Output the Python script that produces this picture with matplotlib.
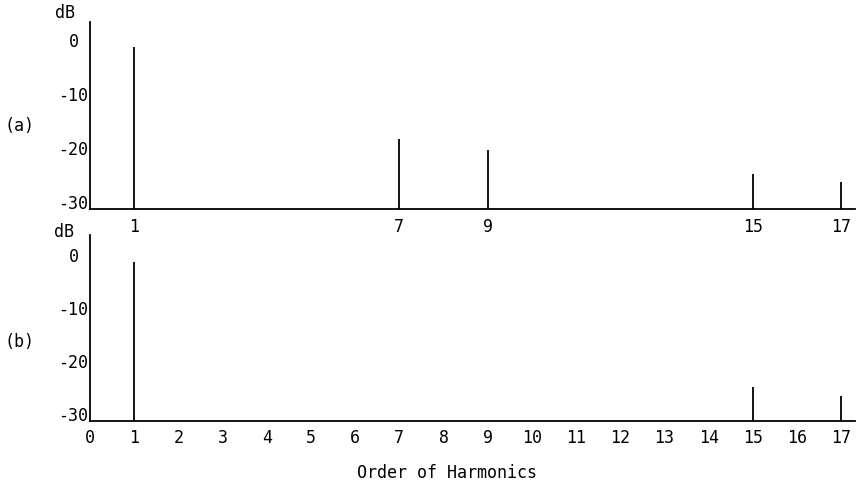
import matplotlib
matplotlib.use("Agg")
from matplotlib import pyplot as plt

# harmonic spectra, dB relative to fundamental
harmonics_a = [1, 7, 9, 15, 17]
levels_a = [0, -17, -19, -23.5, -25]
harmonics_b = [1, 15, 17]
levels_b = [0, -23.6, -25.3]

db_ticks = [0, -10, -20, -30]
db_labels = ["0 ", "-10", "-20", "-30"]
order_ticks = list(range(0, 18))

plt.rcParams["font.family"] = ["DejaVu Sans Mono"]
plt.rcParams["font.size"] = 12

fig = plt.figure(figsize=(8.65, 4.9), dpi=100)
ax_a = fig.add_axes([0.104, 0.573, 0.884, 0.382])
ax_b = fig.add_axes([0.104, 0.141, 0.884, 0.379])


def setup(ax, top, xticks, xpad):
    ax.set_xlim(0, 17.3)
    ax.set_ylim(-30, top)
    for side in ("top", "right"):
        ax.spines[side].set_visible(False)
    for side in ("left", "bottom"):
        ax.spines[side].set_linewidth(1.3)
    ax.set_yticks(db_ticks, db_labels)
    for lab in ax.get_yticklabels():
        lab.set_va("baseline")
    ax.set_xticks(xticks, [str(t) for t in xticks])
    ax.tick_params(axis="y", length=0, pad=1)
    ax.tick_params(axis="x", length=0, pad=xpad)


setup(ax_a, 4.6, harmonics_a, 6)
setup(ax_b, 5.1, order_ticks, 6)

ax_a.vlines(harmonics_a, -30, levels_a, color="black", lw=1.3)
ax_b.vlines(harmonics_b, -30, levels_b, color="black", lw=1.3)

fig.text(0.064, 0.974, "dB", ha="left", va="center")
fig.text(0.062, 0.527, "dB", ha="left", va="center")
fig.text(0.005, 0.743, "(a)", ha="left", va="center")
fig.text(0.005, 0.302, "(b)", ha="left", va="center")
fig.text(0.517, 0.035, "Order of Harmonics", ha="center", va="center")

fig.savefig("out.png", dpi=100)
